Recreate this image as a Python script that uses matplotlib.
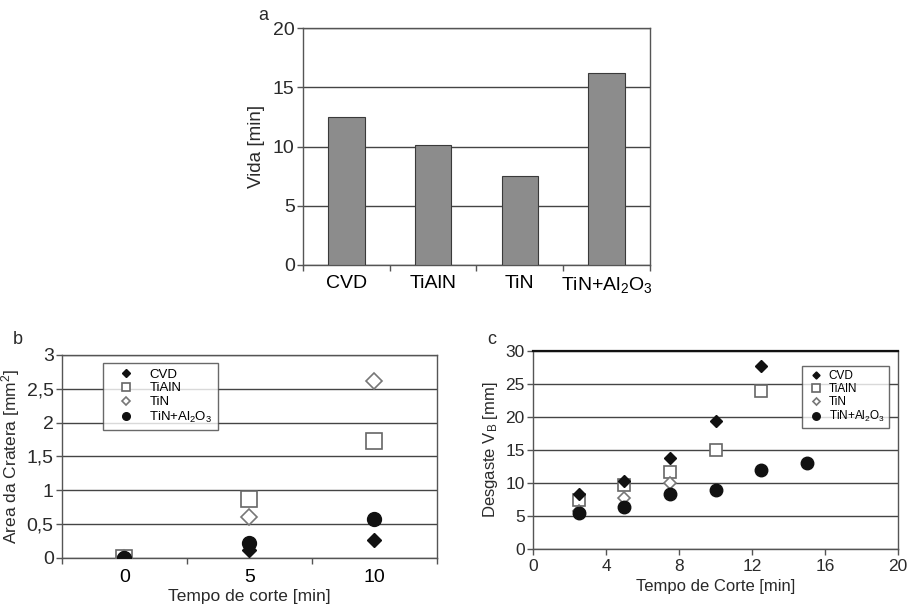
import matplotlib
matplotlib.use("Agg")
import matplotlib.pyplot as plt
import numpy as np

plt.rcParams['font.family'] = ['Liberation Sans', 'DejaVu Sans']
plt.rcParams['mathtext.fontset'] = 'custom'
plt.rcParams['mathtext.rm'] = 'Liberation Sans'
plt.rcParams['mathtext.it'] = 'Liberation Sans:italic'
plt.rcParams['mathtext.default'] = 'regular'

# Panel a
coatings = ["CVD", "TiAlN", "TiN", "TiN+Al$_2$O$_3$"]
vida = [12.5, 10.1, 7.5, 16.2]

# Panel b
times_b = ["0", "5", "10"]
crater_cvd = [0.0, 0.12, 0.27]
crater_tialn = [0.0, 0.87, 1.73]
crater_tin = [0.0, 0.60, 2.62]
crater_tinal = [0.0, 0.22, 0.57]

# Panel c
t_cvd = [2.5, 5, 7.5, 10, 12.5]
vb_cvd = [8.3, 10.3, 13.8, 19.4, 27.7]
t_tialn = [2.5, 5, 7.5, 10, 12.5]
vb_tialn = [7.4, 9.7, 11.7, 15.0, 24.0]
t_tin = [2.5, 5, 7.5]
vb_tin = [5.8, 7.7, 10.0]
t_tinal = [2.5, 5, 7.5, 10, 12.5, 15]
vb_tinal = [5.5, 6.4, 8.3, 9.0, 12.0, 13.0]

legend_labels = ["CVD", "TiAlN", "TiN", "TiN+Al$_2$O$_3$"]

fig = plt.figure(figsize=(9.09, 6.04), dpi=100)

grid_c = "#444444"
spine_c = "#555555"
text_c = "#2a2a2a"

def style_axes(ax):
    for s in ax.spines.values():
        s.set_color(spine_c)
        s.set_linewidth(1.0)
    ax.yaxis.grid(True, color=grid_c, linewidth=1.0)
    ax.set_axisbelow(True)
    ax.tick_params(colors=text_c, length=4, width=1, color=spine_c)

# ---- Panel a ----
ax = fig.add_axes([0.3333, 0.5613, 0.3817, 0.3923])
style_axes(ax)
x = np.arange(len(coatings))
ax.bar(x, vida, width=0.42, color="#8c8c8c", edgecolor="#3a3a3a", linewidth=0.8, zorder=3)
ax.set_xlim(-0.5, len(coatings) - 0.5)
ax.set_ylim(0, 20)
ax.set_yticks([0, 5, 10, 15, 20])
ax.set_xticks(np.arange(-0.5, len(coatings) + 0.5, 1))
ax.set_xticklabels([])
ax.set_xticks(x, minor=True)
ax.set_xticklabels(coatings, minor=True, fontsize=14)
ax.tick_params(axis="x", which="minor", length=0, pad=7)
ax.tick_params(axis="y", labelsize=14, pad=2)
ax.set_ylabel("Vida [min]", fontsize=13.5, color=text_c, labelpad=6)
fig.text(258 / 909, 1 - 15 / 604, "a", fontsize=13, ha="left", va="center", color=text_c)

# ---- Panel b ----
ax = fig.add_axes([0.0682, 0.0762, 0.4125, 0.3361])
style_axes(ax)
xb = np.arange(len(times_b))
h1, = ax.plot(xb, crater_cvd, linestyle="none", marker="D", markersize=7, color="#111111", zorder=4)
h2, = ax.plot(xb, crater_tialn, linestyle="none", marker="s", markersize=11, markerfacecolor="white",
              markeredgecolor="#666666", markeredgewidth=1.2, zorder=3)
h3, = ax.plot(xb, crater_tin, linestyle="none", marker="D", markersize=8, markerfacecolor="white",
              markeredgecolor="#777777", markeredgewidth=1.2, zorder=3)
h4, = ax.plot(xb, crater_tinal, linestyle="none", marker="o", markersize=10, color="#111111", zorder=4)
ax.set_xlim(-0.5, len(times_b) - 0.5)
ax.set_ylim(0, 3)
ax.set_yticks([0, 0.5, 1, 1.5, 2, 2.5, 3])
ax.set_yticklabels(["0", "0,5", "1", "1,5", "2", "2,5", "3"])
ax.set_xticks(np.arange(-0.5, len(times_b) + 0.5, 1))
ax.set_xticklabels([])
ax.set_xticks(xb, minor=True)
ax.set_xticklabels(times_b, minor=True, fontsize=14)
ax.tick_params(axis="x", which="minor", length=0, pad=8)
ax.tick_params(axis="y", labelsize=14, pad=2)
ax.set_xlabel("Tempo de corte [min]", fontsize=12.5, color=text_c, labelpad=2)
ax.set_ylabel("Area da Cratera [mm$^2$]", fontsize=12.5, color=text_c, labelpad=3)
leg = ax.legend([h1, h2, h3, h4], legend_labels, loc="upper left",
                bbox_to_anchor=(0.11, 0.96), fontsize=9.5, frameon=True, fancybox=False,
                borderpad=0.4, labelspacing=0.12, handletextpad=0.5, markerscale=0.55,
                handlelength=2.6, borderaxespad=0)
leg.get_frame().set_edgecolor("#444444")
leg.get_frame().set_linewidth(1.0)
fig.text(13 / 909, 1 - 340 / 604, "b", fontsize=13, ha="left", va="center", color=text_c)

# ---- Panel c ----
ax = fig.add_axes([0.5864, 0.0911, 0.4015, 0.3278])
style_axes(ax)
ax.spines["top"].set_color("#111111")
ax.spines["top"].set_linewidth(1.6)
c1, = ax.plot(t_cvd, vb_cvd, linestyle="none", marker="D", markersize=6, color="#111111", zorder=4)
c2, = ax.plot(t_tialn, vb_tialn, linestyle="none", marker="s", markersize=9, markerfacecolor="white",
              markeredgecolor="#666666", markeredgewidth=1.2, zorder=3)
c3, = ax.plot(t_tin, vb_tin, linestyle="none", marker="D", markersize=6, markerfacecolor="white",
              markeredgecolor="#777777", markeredgewidth=1.2, zorder=3)
c4, = ax.plot(t_tinal, vb_tinal, linestyle="none", marker="o", markersize=9, color="#111111", zorder=4)
ax.set_xlim(0, 20)
ax.set_ylim(0, 30)
ax.set_xticks([0, 4, 8, 12, 16, 20])
ax.set_yticks([0, 5, 10, 15, 20, 25, 30])
ax.tick_params(axis="both", labelsize=12.5)
ax.tick_params(axis="x", pad=3)
ax.tick_params(axis="y", pad=2)
ax.set_xlabel("Tempo de Corte [min]", fontsize=12, color=text_c, labelpad=4)
ax.set_ylabel("Desgaste V$_B$ [mm]", fontsize=12, color=text_c, labelpad=4)
leg = ax.legend([c1, c2, c3, c4], legend_labels, loc="upper right",
                bbox_to_anchor=(0.975, 0.925), fontsize=8.5, frameon=True, fancybox=False,
                borderpad=0.35, labelspacing=0.08, handletextpad=0.3, markerscale=0.6,
                handlelength=1.6, borderaxespad=0)
leg.get_frame().set_edgecolor("#444444")
leg.get_frame().set_linewidth(1.0)
fig.text(487 / 909, 1 - 340 / 604, "c", fontsize=13, ha="left", va="center", color=text_c)

fig.savefig("out.png", dpi=100, facecolor="white")
